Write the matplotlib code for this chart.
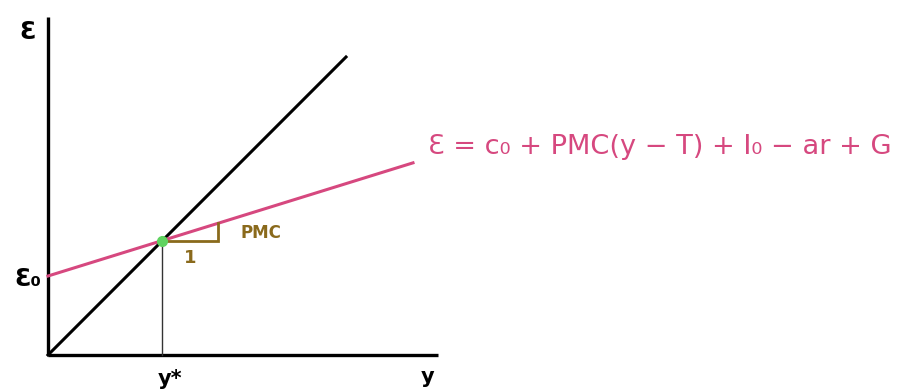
import matplotlib
matplotlib.use("Agg")
import matplotlib.pyplot as plt
import numpy as np

# Keynesian cross: planned expenditure vs. income
E0 = 79.0          # autonomous expenditure (intercept)
PMC = 0.31         # marginal propensity to consume (slope)
Y_MAX = 390.0      # end of the income axis
E_MAX = 338.0      # top of the expenditure axis
LINE45_END = 298.0 # end of the 45-degree line
SPENDING_END = 365.0
TRIANGLE_RUN = 56.0

axis_labels = ["Ɛ", "Ɛ₀", "y*", "y"]
equation = "Ɛ = c₀ + PMC(y − T) + I₀ − ar + G"

PINK = "#d6487f"
BROWN = "#8a6a1c"
GREEN = "#5fd35f"

fig = plt.figure(figsize=(9, 3.9), dpi=100)
ax = fig.add_axes([0, 0, 1, 1])
ax.set_xlim(-48, 852)
ax.set_ylim(-35, 355)
ax.axis("off")

# axes
ax.plot([0, 0], [0, E_MAX], color="black", lw=2.4, solid_capstyle="butt")
ax.plot([0, Y_MAX], [0, 0], color="black", lw=2.4, solid_capstyle="butt")

# 45-degree line
ax.plot([0, LINE45_END], [0, LINE45_END], color="black", lw=2.2)

# planned expenditure line
xs = np.array([0, SPENDING_END])
ax.plot(xs, E0 + PMC * xs, color=PINK, lw=2.2)

# equilibrium
y_star = E0 / (1 - PMC)
ax.plot([y_star, y_star], [0, y_star], color="#333333", lw=1.0)

# slope triangle
tx = [y_star, y_star + TRIANGLE_RUN, y_star + TRIANGLE_RUN]
ty = [y_star, y_star, y_star + PMC * TRIANGLE_RUN]
ax.plot(tx, ty, color=BROWN, lw=2.0, solid_joinstyle="miter")
ax.text(y_star + TRIANGLE_RUN / 2, y_star - 8, "1", color=BROWN,
        fontsize=13, fontweight="bold", ha="center", va="top")
ax.text(y_star + TRIANGLE_RUN + 22, y_star + 8, "PMC", color=BROWN,
        fontsize=12, fontweight="bold", ha="left", va="center")

ax.plot(y_star, y_star, "o", color=GREEN, ms=7, zorder=5)

# axis labels
ax.text(-20, 323, axis_labels[0], fontsize=17, fontweight="bold",
        ha="center", va="center")
ax.text(-20, E0 - 3, axis_labels[1], fontsize=17, fontweight="bold",
        ha="center", va="center")
ax.text(y_star + 8, -24, axis_labels[2], fontsize=15, fontweight="bold",
        ha="center", va="center")
ax.text(Y_MAX - 10, -22, axis_labels[3], fontsize=15, fontweight="bold",
        ha="center", va="center")

# equation
ax.text(380, 208, equation, color=PINK, fontsize=19.6,
        ha="left", va="center")

fig.savefig("out.png", dpi=100)
